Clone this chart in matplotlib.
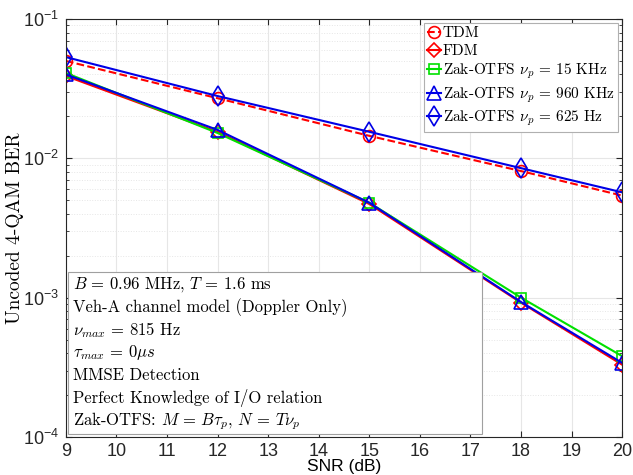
import matplotlib
matplotlib.use("Agg")
import matplotlib.pyplot as plt
from matplotlib.patches import Rectangle
from matplotlib.ticker import LogLocator, NullFormatter, FixedLocator

plt.rcParams['mathtext.fontset'] = 'cm'
plt.rcParams['font.family'] = ['Liberation Sans', 'DejaVu Sans']

snr = [9, 12, 15, 18, 20]
ber_tdm = [0.050, 0.027, 0.0145, 0.0081, 0.0054]
ber_fdm = [0.039, 0.0155, 0.0047, 0.00092, 0.00033]
ber_zak_15k = [0.041, 0.0152, 0.0048, 0.00100, 0.00038]
ber_zak_960k = [0.040, 0.0160, 0.0048, 0.00093, 0.00034]
ber_zak_625 = [0.0533, 0.028, 0.0155, 0.0085, 0.0057]

labels = ['TDM', 'FDM', r'Zak-OTFS $\nu_p$ = 15 KHz',
          r'Zak-OTFS $\nu_p$ = 960 KHz', r'Zak-OTFS $\nu_p$ = 625 Hz']

info_lines = [r'$B\,=\,0.96$ MHz, $T\,=\,1.6$ ms',
              'Veh-A channel model (Doppler Only)',
              r'$\nu_{max}\,=\,815$ Hz',
              r'$\tau_{max}\,=\,0\mu s$',
              'MMSE Detection',
              'Perfect Knowledge of I/O relation',
              r'Zak-OTFS: $M\,=\,B\tau_p$, $N\,=\,T\nu_p$']

fig = plt.figure(figsize=(6.33, 4.75), dpi=100)
ax = fig.add_axes([0.104, 0.08, 0.879, 0.88])

ms = 8.5
lw = 1.5
ax.semilogy(snr, ber_tdm, color='red', ls='--', lw=lw, marker='o', ms=ms, mfc='none', mew=1.2, label=labels[0])
ax.semilogy(snr, ber_fdm, color='red', ls='-', lw=lw, marker='D', ms=ms - 1, mfc='none', mew=1.2, label=labels[1])
ax.semilogy(snr, ber_zak_15k, color='#00e000', ls='-', lw=lw, marker='s', ms=ms - 1, mfc='none', mew=1.2, label=labels[2])
ax.semilogy(snr, ber_zak_960k, color='#0000e6', ls='-', lw=lw, marker='^', ms=ms + 1, mfc='none', mew=1.2, label=labels[3])
ax.semilogy(snr, ber_zak_625, color='#0000e6', ls='-', lw=lw, marker='d', ms=ms + 2, mfc='none', mew=1.2, label=labels[4])

ax.set_xlim(9, 20)
ax.set_ylim(1e-4, 1e-1)
ax.xaxis.set_major_locator(FixedLocator(list(range(9, 21))))
ax.yaxis.set_major_locator(LogLocator(base=10, numticks=10))
ax.yaxis.set_minor_locator(LogLocator(base=10, subs=range(2, 10), numticks=20))
ax.yaxis.set_minor_formatter(NullFormatter())

ax.grid(True, which='major', color='#e6e6e6', lw=0.8)
ax.grid(True, which='minor', axis='y', color='#e6e6e6', lw=0.7, ls=':')
ax.set_axisbelow(True)
ax.tick_params(which='both', direction='in', top=True, right=True, labelsize=13, colors='#262626')
ax.tick_params(which='major', length=4)
ax.tick_params(which='minor', length=2)
ax.tick_params(axis='y', which='major', pad=5)
ax.tick_params(axis='x', which='major', pad=4)
for sp in ax.spines.values():
    sp.set_color('#262626')
    sp.set_linewidth(0.8)

ax.set_xlabel('SNR (dB)', fontsize=12.5)
ax.xaxis.set_label_coords(0.5, -0.071)
ax.xaxis.label.set_va('center')
ax.set_ylabel('Uncoded 4-QAM BER', fontsize=14, family='cmr10')
ax.yaxis.set_label_coords(-0.076, 0.5)

leg = ax.legend(loc='upper right', prop={'family': 'cmr10', 'size': 11},
                handlelength=0.9, handletextpad=0.1, borderpad=0.25,
                labelspacing=0.25, borderaxespad=0.25, fancybox=False,
                framealpha=1, edgecolor='#b0b0b0')
leg.get_frame().set_linewidth(0.8)

ax.add_patch(Rectangle((0.004, 0.007), 0.744, 0.388, transform=ax.transAxes,
                       facecolor='white', edgecolor='#a0a0a0', lw=0.8, zorder=5))
y0 = 0.365
dy = 0.0545
for i, line in enumerate(info_lines):
    ax.text(0.012, y0 - i * dy, line, transform=ax.transAxes, fontsize=12,
            family='cmr10', va='center', ha='left', zorder=6)

fig.savefig('out.png', dpi=100)
